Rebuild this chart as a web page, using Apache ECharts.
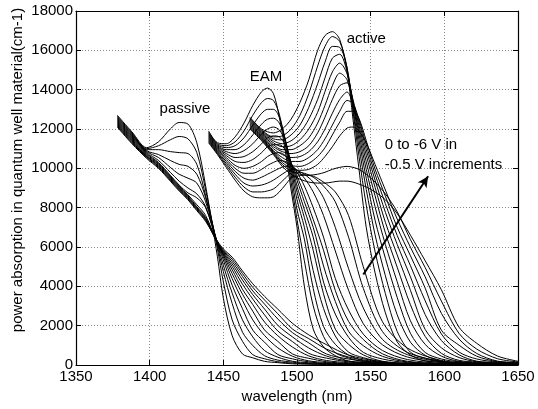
<!DOCTYPE html>
<html>
<head>
<meta charset="utf-8">
<script src="https://cdn.jsdelivr.net/npm/echarts@6/dist/echarts.min.js"></script>
<style>
  html, body { margin: 0; padding: 0; background: #fff; }
  #chart { width: 538px; height: 409px; }
</style>
</head>
<body>
<div id="chart"></div>
<script>
// wavelength grids (nm), one per device section
const passiveWl = [1378, 1388, 1398, 1406, 1414, 1420, 1426, 1432, 1438, 1446, 1450, 1456, 1463, 1470, 1478, 1487, 1497, 1508, 1520, 1535, 1555, 1580, 1615, 1650];
const eamWl = [1440, 1446, 1452, 1458, 1464, 1470, 1476, 1480, 1484, 1488, 1492, 1496, 1500, 1505, 1511, 1518, 1526, 1535, 1545, 1558, 1575, 1600, 1625, 1650];
const activeWl = [1468, 1476, 1484, 1490, 1496, 1502, 1508, 1514, 1519, 1524, 1529, 1534, 1538, 1542, 1547, 1553, 1560, 1568, 1577, 1587, 1598, 1610, 1622, 1636, 1650];

// absorption (cm-1), one row per bias: 0, -0.5, ... -6 V
const passive = [
  [12700, 11850, 11050, 11350, 12000, 12330, 12250, 11300, 9100, 5500, 3400, 1490, 560, 366, 185, 119, 58, 45, 35, 25, 20, 15, 10, 5],
  [12650, 11800, 11000, 11150, 11450, 11620, 11500, 10800, 8900, 5900, 4236, 2292, 1204, 526, 317, 168, 96, 55, 40, 30, 22, 15, 10, 5],
  [12600, 11750, 10950, 10950, 10850, 10800, 10750, 10200, 8600, 6050, 4750, 3127, 1669, 988, 471, 249, 144, 67, 45, 32, 24, 16, 10, 5],
  [12550, 11700, 10900, 10700, 10400, 10200, 10100, 9700, 8500, 6150, 5077, 3655, 2292, 1426, 733, 397, 190, 115, 57, 38, 26, 17, 10, 5],
  [12500, 11650, 10850, 10550, 10050, 9700, 9500, 9250, 8300, 6200, 5340, 4058, 2862, 1771, 1158, 533, 311, 160, 80, 45, 28, 18, 11, 5],
  [12450, 11600, 10800, 10400, 9800, 9350, 9000, 8700, 8050, 6200, 5500, 4390, 3284, 2292, 1498, 873, 443, 211, 125, 55, 30, 19, 11, 5],
  [12400, 11550, 10750, 10300, 9650, 9150, 8750, 8500, 8000, 6200, 5600, 4644, 3601, 2732, 1780, 1202, 560, 340, 168, 73, 35, 20, 12, 5],
  [12350, 11500, 10700, 10250, 9600, 9100, 8650, 8150, 7600, 6200, 5650, 4845, 3850, 3071, 2181, 1488, 908, 463, 229, 116, 45, 23, 12, 5],
  [12300, 11450, 10650, 10200, 9550, 9050, 8600, 8050, 7500, 6200, 5700, 5007, 4107, 3349, 2547, 1728, 1187, 592, 348, 157, 55, 27, 13, 5],
  [12250, 11400, 10600, 10150, 9500, 9000, 8550, 8000, 7450, 6200, 5750, 5141, 4320, 3575, 2842, 2017, 1424, 865, 455, 197, 78, 30, 14, 5],
  [12200, 11350, 10600, 10100, 9450, 8950, 8500, 7950, 7400, 6200, 5800, 5264, 4498, 3766, 3094, 2338, 1642, 1124, 560, 303, 118, 40, 15, 5],
  [12150, 11300, 10550, 10050, 9400, 8900, 8450, 7900, 7350, 6250, 5850, 5378, 4650, 3950, 3305, 2604, 1825, 1340, 811, 406, 157, 50, 17, 5],
  [12100, 11250, 10500, 10000, 9350, 8850, 8400, 7850, 7300, 6300, 5900, 5484, 4781, 4129, 3488, 2838, 2114, 1534, 1034, 503, 194, 58, 20, 5]
];

const eam = [
  [11900, 11300, 11250, 11600, 12300, 13200, 13900, 14080, 13800, 12600, 10900, 8900, 7000, 4000, 1825, 919, 476, 200, 133, 55, 40, 25, 15, 8],
  [11850, 11250, 11150, 11350, 11900, 12700, 13350, 13550, 13450, 12750, 11250, 9300, 7400, 5299, 3006, 1452, 627, 360, 170, 85, 50, 30, 18, 10],
  [11800, 11200, 11050, 11150, 11550, 12200, 12800, 13000, 13000, 12600, 11450, 9700, 7900, 6400, 3892, 1963, 1052, 510, 223, 121, 52, 35, 20, 10],
  [11750, 11150, 10950, 10950, 11200, 11700, 12250, 12500, 12550, 12300, 11500, 10000, 8400, 7000, 4798, 2876, 1474, 656, 373, 157, 58, 40, 22, 10],
  [11700, 11100, 10850, 10750, 10900, 11250, 11750, 12000, 12100, 11950, 11400, 10200, 8800, 7500, 5828, 3620, 1825, 1054, 514, 191, 85, 45, 25, 12],
  [11650, 11050, 10750, 10550, 10600, 10850, 11250, 11550, 11650, 11600, 11200, 10300, 9100, 7900, 6500, 4217, 2589, 1410, 645, 305, 120, 55, 28, 12],
  [11600, 11000, 10650, 10350, 10300, 10450, 10800, 11100, 11200, 11200, 10950, 10300, 9400, 8300, 7000, 5037, 3233, 1715, 982, 440, 154, 60, 30, 14],
  [11550, 10950, 10550, 10150, 10000, 10100, 10350, 10600, 10750, 10800, 10650, 10250, 9600, 8650, 7400, 5834, 3785, 2217, 1295, 568, 187, 62, 32, 15],
  [11500, 10900, 10450, 10000, 9750, 9750, 9950, 10150, 10300, 10400, 10350, 10200, 9800, 9100, 8000, 6500, 4400, 2794, 1569, 737, 277, 70, 35, 16],
  [11450, 10850, 10350, 9850, 9500, 9400, 9550, 9700, 9850, 10000, 10100, 10100, 9900, 9500, 8800, 7600, 5800, 3800, 2100, 1027, 403, 105, 40, 18],
  [11400, 10800, 10250, 9700, 9250, 9100, 9150, 9250, 9400, 9600, 9800, 9950, 9900, 9700, 9300, 8500, 7000, 4900, 2900, 1300, 522, 137, 45, 20],
  [11350, 10750, 10150, 9550, 9050, 8800, 8800, 8850, 8950, 9200, 9500, 9750, 9800, 9750, 9550, 9100, 8300, 6500, 3900, 1700, 640, 168, 55, 22],
  [11300, 10700, 10050, 9400, 8850, 8550, 8500, 8500, 8550, 8800, 9150, 9500, 9600, 9650, 9600, 9300, 8800, 7600, 5000, 2200, 860, 200, 60, 25]
];

const active = [
  [12600, 12000, 11800, 12000, 12500, 13350, 14500, 16000, 16750, 16950, 16550, 14950, 12500, 10000, 7000, 4686, 2650, 1178, 507, 200, 145, 85, 55, 35, 20],
  [12550, 11950, 11600, 11650, 12000, 12700, 13800, 15200, 16200, 16700, 16450, 15100, 12900, 10650, 8131, 5767, 3630, 1706, 650, 347, 169, 110, 58, 40, 25],
  [12500, 11900, 11500, 11450, 11700, 12200, 13100, 14300, 15400, 16200, 16150, 15100, 13100, 11111, 8932, 6614, 4537, 2553, 1159, 494, 194, 134, 75, 45, 30],
  [12450, 11850, 11400, 11250, 11400, 11800, 12500, 13500, 14600, 15600, 15800, 14900, 13300, 11475, 9500, 7357, 5427, 3436, 1609, 637, 306, 158, 99, 55, 35],
  [12400, 11800, 11300, 11100, 11150, 11450, 12000, 12850, 13900, 14900, 15350, 14800, 13400, 11765, 9950, 8042, 6124, 4234, 2245, 1045, 450, 182, 123, 60, 40],
  [12350, 11750, 11200, 10950, 10950, 11150, 11550, 12300, 13200, 14200, 14840, 14500, 13300, 12000, 10333, 8598, 6717, 4975, 3062, 1453, 593, 236, 148, 80, 45],
  [12300, 11700, 11100, 10850, 10750, 10850, 11150, 11800, 12600, 13500, 14200, 14350, 13500, 12195, 10671, 9034, 7254, 5600, 3797, 1808, 873, 378, 171, 103, 55],
  [12250, 11650, 11000, 10700, 10550, 10600, 10850, 11350, 12000, 12800, 13500, 13880, 13300, 12360, 10955, 9395, 7767, 6137, 4484, 2560, 1245, 519, 195, 127, 60],
  [12200, 11600, 10900, 10550, 10350, 10350, 10550, 10950, 11500, 12200, 12900, 13450, 13300, 12500, 11198, 9700, 8200, 6590, 5052, 3266, 1580, 660, 306, 151, 90],
  [12150, 11550, 10850, 10400, 10150, 10100, 10250, 10600, 11050, 11700, 12350, 12900, 12900, 12550, 11408, 9960, 8579, 7000, 5554, 3908, 1774, 1005, 448, 174, 110],
  [12100, 11500, 10800, 10300, 10000, 9900, 9950, 10200, 10600, 11100, 11650, 12050, 12100, 11900, 11300, 10200, 8896, 7423, 5989, 4481, 2627, 1319, 587, 200, 130],
  [12050, 11450, 10750, 10200, 9850, 9700, 9650, 9700, 9800, 9950, 10050, 10100, 10050, 9950, 9700, 9300, 8700, 7793, 6375, 4954, 3251, 1606, 809, 321, 154],
  [12000, 11400, 10700, 10100, 9700, 9450, 9300, 9250, 9250, 9300, 9350, 9350, 9300, 9200, 9050, 8800, 8400, 7700, 6600, 5300, 3824, 1920, 1103, 459, 190]
];

// annotations: [text, wavelength, absorption]
const labels = [
  ['passive', 1424, 13000],
  ['EAM', 1479, 14650],
  ['active', 1547, 16580]
];
const noteLines = ['0 to -6 V in', '-0.5 V increments'];
const notePos = [1559.5, 11700];
const arrowFrom = [1545, 4600];
const arrowTo = [1589, 9600];
const yTitle = 'power absorption in quantum well material(cm-1)';

const FONT = '"Liberation Sans", Arial, Helvetica, sans-serif';

const chart = echarts.init(document.getElementById('chart'), null, { renderer: 'canvas' });

const series = [];
[[passiveWl, passive], [eamWl, eam], [activeWl, active]].forEach(([wl, rows]) => {
  rows.forEach((vals) => {
    series.push({
      type: 'line',
      data: wl.map((w, i) => [w, vals[i]]),
      showSymbol: false,
      smooth: 0.3,
      lineStyle: { color: '#000', width: 1 },
      silent: true,
      animation: false
    });
  });
});

series.push({
  type: 'line',
  data: [],
  markLine: {
    silent: true,
    animation: false,
    symbol: ['none', 'arrow'],
    symbolSize: [8, 11],
    label: { show: false },
    lineStyle: { color: '#000', width: 2, type: 'solid' },
    data: [[{ coord: arrowFrom }, { coord: arrowTo }]]
  }
});

const axisCommon = {
  type: 'value',
  axisLine: { show: true, onZero: false, lineStyle: { color: '#000', width: 1.2 } },
  axisTick: { show: true, inside: true, length: 5, lineStyle: { color: '#000' } }
};
const plain = (v) => String(v);

const option = {
  animation: false,
  backgroundColor: '#fff',
  grid: { left: 76, right: 20, top: 11, bottom: 43, containLabel: false },
  xAxis: [
    Object.assign({}, axisCommon, {
      min: 1350, max: 1650, interval: 50, position: 'bottom',
      axisLabel: { color: '#000', fontSize: 15, fontFamily: FONT, margin: 4, formatter: plain },
      splitLine: { show: true, lineStyle: { color: '#888', type: [1, 2], width: 1 } },
      name: 'wavelength (nm)', nameLocation: 'middle', nameGap: 24,
      nameTextStyle: { color: '#000', fontSize: 15, fontFamily: FONT }
    }),
    Object.assign({}, axisCommon, {
      min: 1350, max: 1650, interval: 50, position: 'top',
      axisLabel: { show: false }, splitLine: { show: false }
    })
  ],
  yAxis: [
    Object.assign({}, axisCommon, {
      min: 0, max: 18000, interval: 2000, position: 'left',
      axisLabel: { color: '#000', fontSize: 15, fontFamily: FONT, margin: 3, formatter: plain },
      splitLine: { show: true, lineStyle: { color: '#888', type: [1, 2], width: 1 } }
    }),
    Object.assign({}, axisCommon, {
      min: 0, max: 18000, interval: 2000, position: 'right',
      axisLabel: { show: false }, splitLine: { show: false }
    })
  ],
  series: series
};

chart.setOption(option);

// place text annotations in data coordinates
const toPx = (pt) => chart.convertToPixel({ xAxisIndex: 0, yAxisIndex: 0 }, pt);
const graphics = labels.map(([t, x, y]) => {
  const p = toPx([x, y]);
  return {
    type: 'text', x: p[0], y: p[1], silent: true,
    style: { text: t, fill: '#000', font: '15px ' + FONT, textAlign: 'center', textVerticalAlign: 'middle' }
  };
});
const np = toPx(notePos);
graphics.push({
  type: 'text', x: np[0], y: np[1], silent: true,
  style: { text: noteLines.join('\n'), fill: '#000', font: '15px ' + FONT, lineHeight: 20, textAlign: 'left', textVerticalAlign: 'top' }
});
// y-axis title sits a little above the axis centre, as in the source figure
graphics.push({
  type: 'text', x: 18, y: 170, rotation: Math.PI / 2, silent: true,
  style: { text: yTitle, fill: '#000', font: '15px ' + FONT, textAlign: 'center', textVerticalAlign: 'middle' }
});
chart.setOption({ graphic: graphics });
</script>
</body>
</html>
